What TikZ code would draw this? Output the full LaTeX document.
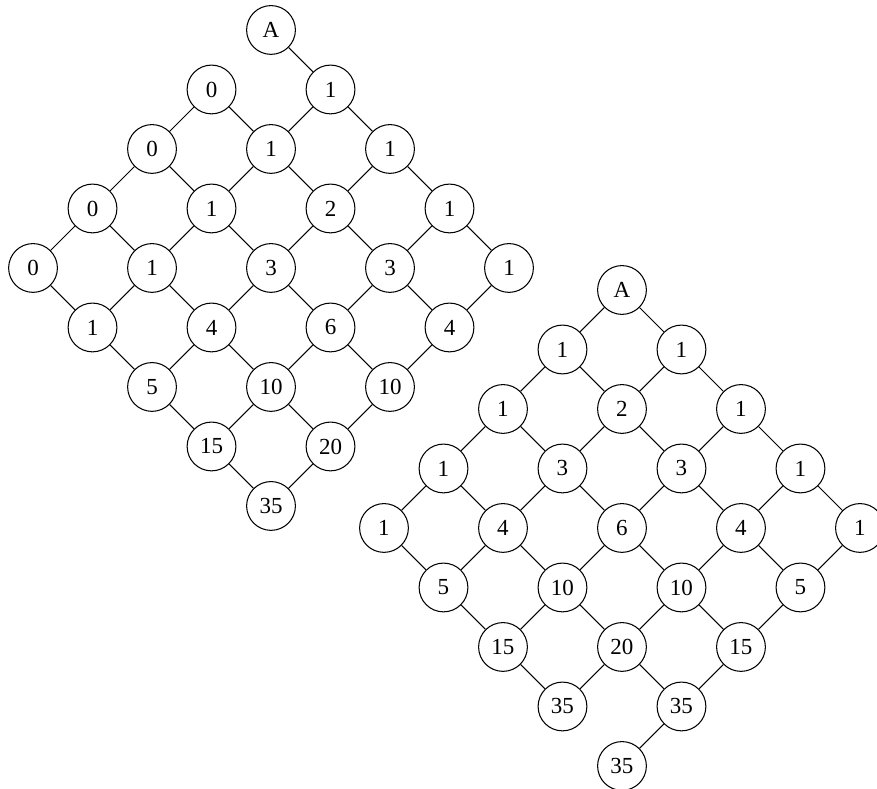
\documentclass[tikz,border=0pt]{standalone}
\usepackage{fontspec}
\setmainfont{Liberation Serif}
\usepackage{tikz}
\usetikzlibrary{calc}
\tikzset{
  cell/.style={circle, draw, minimum size=0.82cm, inner sep=0pt,
    font=\fontsize{11}{13}\selectfont, line width=0.5pt},
  link/.style={line width=0.5pt}
}

\begin{document}
\begin{tikzpicture}
  \useasboundingbox (0,0) rectangle (14.74,-13.26);

  % Left lattice (u = down-left, v = down-right)
  \begin{scope}[shift={(4.555,-0.504)}]
    \foreach \u/\v/\val in {0/0/A,
        1/0/0, 2/0/0, 3/0/0, 4/0/0,
        0/1/1, 1/1/1, 2/1/1, 3/1/1, 4/1/1,
        0/2/1, 1/2/2, 2/2/3, 3/2/4, 4/2/5,
        0/3/1, 1/3/3, 2/3/6, 3/3/10, 4/3/15,
        0/4/1, 1/4/4, 2/4/10, 3/4/20, 4/4/35}
      \node[cell] (L\u\v) at ({\v-\u},{-\u-\v}) {\val};
  \end{scope}

  % Right lattice
  \begin{scope}[shift={(10.454,-4.874)}]
    \foreach \u/\v/\val in {0/0/A,
        1/0/1, 2/0/1, 3/0/1, 4/0/1,
        0/1/1, 1/1/2, 2/1/3, 3/1/4, 4/1/5,
        0/2/1, 1/2/3, 2/2/6, 3/2/10, 4/2/15,
        0/3/1, 1/3/4, 2/3/10, 3/3/20, 4/3/35,
        0/4/1, 1/4/5, 2/4/15, 3/4/35, 4/4/35}
      \node[cell] (R\u\v) at ({\v-\u},{-\u-\v}) {\val};
  \end{scope}

  % Down-right links
  \foreach \u in {0,...,4} {
    \foreach \v [evaluate=\v as \w using int(\v+1)] in {0,...,3} {
      \draw[link] (L\u\v) -- (L\u\w);
      \ifnum\u\v=43 \else \draw[link] (R\u\v) -- (R\u\w); \fi
    }
  }

  % Down-left links
  \foreach \u [evaluate=\u as \t using int(\u+1)] in {0,...,3} {
    \foreach \v in {0,...,4} {
      \ifnum\u\v=0 \else \draw[link] (L\u\v) -- (L\t\v); \fi
      \draw[link] (R\u\v) -- (R\t\v);
    }
  }
\end{tikzpicture}
\end{document}
